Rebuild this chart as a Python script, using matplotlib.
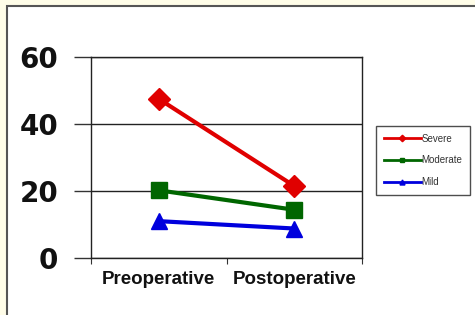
import matplotlib
matplotlib.use('Agg')
import matplotlib.pyplot as plt
from matplotlib.patches import Rectangle

categories = ['Preoperative', 'Postoperative']
severe = [47.5, 21.5]
moderate = [20.2, 14.4]
mild = [11.0, 8.8]
yticks = [0, 20, 40, 60]

plt.rcParams['font.family'] = ['Liberation Sans', 'DejaVu Sans']

fig = plt.figure(figsize=(4.75, 3.15), dpi=100)
fig.patch.set_facecolor('#fffde8')
W, H = 475, 315
# white chart area with grey border (right/bottom edges run off the canvas)
fig.patches.append(Rectangle((6.5 / W, -0.1), 1.2, 1.1 - 6.5 / H, transform=fig.transFigure,
                             facecolor='white', edgecolor='#555555', linewidth=1.5, zorder=-1))

ax = fig.add_axes([91 / W, 1 - 258 / H, (362 - 91) / W, (258 - 57) / H])
x = range(len(categories))
ax.plot(x, severe, color='#e00000', lw=3, marker='D', ms=11, label='Severe')
ax.plot(x, moderate, color='#006600', lw=3, marker='s', ms=11, label='Moderate')
ax.plot(x, mild, color='#0000dd', lw=3, marker='^', ms=12, label='Mild')

ax.set_xlim(-0.5, 1.5)
ax.set_ylim(0, 60)
ax.set_yticks(yticks)
ax.set_yticklabels([str(v) for v in yticks], fontsize=20, fontweight='bold',
                   family='DejaVu Sans', color='#111111')
ax.tick_params(axis='y', length=12, width=1, color='#333333', pad=11.5)
ax.set_xticks([-0.5, 0.5, 1.5])
ax.set_xticklabels([])
ax.set_xticks(list(x), minor=True)
ax.set_xticklabels(categories, minor=True, fontsize=13.5, fontweight='bold', color='#111111')
ax.tick_params(axis='x', which='major', length=4, color='#333333')
ax.tick_params(axis='x', which='minor', length=0, pad=9)
ax.grid(True, axis='y', color='#222222', lw=1)
for s in ax.spines.values():
    s.set_color('#222222')
    s.set_linewidth(1)

handles, labels = ax.get_legend_handles_labels()
leg = fig.legend(handles, labels, loc='upper left', bbox_to_anchor=(376 / W, 1 - 126 / H),
                 fontsize=7, frameon=True, fancybox=False, edgecolor='#222222',
                 markerscale=0.3, handlelength=3.8, handletextpad=0.1, labelspacing=1.2,
                 borderpad=0.8, borderaxespad=0)
leg.get_frame().set_linewidth(1)
for h in leg.get_lines():
    h.set_linewidth(2)
for t in leg.get_texts():
    t.set_color('#333333')

fig.savefig('out.png', dpi=100, facecolor=fig.get_facecolor())
